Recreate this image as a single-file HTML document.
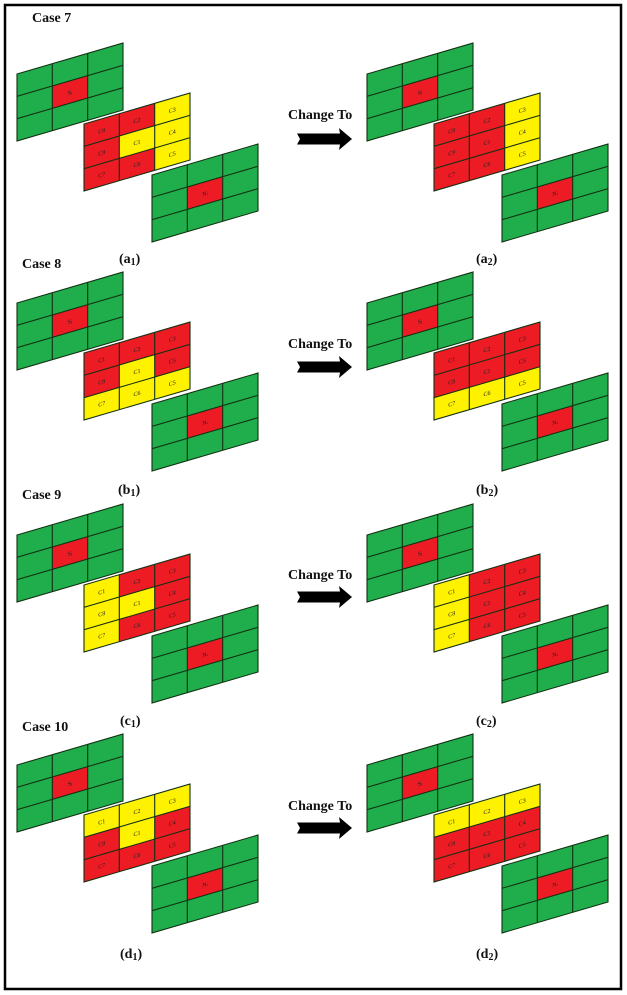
<!DOCTYPE html>
<html><head><meta charset="utf-8"><style>
html,body{margin:0;padding:0;background:#fff;}
svg{display:block;}
.t{font-family:"Liberation Serif",serif;font-weight:bold;font-size:14px;fill:#111;}
.s{font-family:"Liberation Serif",serif;font-size:6px;fill:#222;text-anchor:middle;}
.ln{stroke:#123012;stroke-width:1.1;fill:none;}
</style></head><body>
<svg width="627" height="995" viewBox="0 0 627 995" xmlns="http://www.w3.org/2000/svg">
<rect x="5" y="5" width="616" height="984" fill="#fff" stroke="#000" stroke-width="2.5"/>
<defs>
<g id="lines">
<path class="ln" d="M35.3 0V67M70.7 0V67M0 22.3H106M0 44.7H106"/>
<rect class="ln" x="0" y="0" width="106" height="67"/>
</g>
<g id="gs">
<rect x="0" y="0" width="106" height="67" fill="#1fae4b"/>
<rect x="35.3" y="22.3" width="35.4" height="22.4" fill="#ed1c24"/>
<use href="#lines"/>
<text class="s" x="53" y="36">S<tspan font-size="4">j</tspan></text>
</g>
<g id="gn">
<rect x="0" y="0" width="106" height="67" fill="#1fae4b"/>
<rect x="35.3" y="22.3" width="35.4" height="22.4" fill="#ed1c24"/>
<use href="#lines"/>
<text class="s" x="53" y="36">N<tspan font-size="4">i</tspan></text>
</g>
<g id="arr"><polygon points="297,-5.5 340,-5.5 339,-11 352,0 339,11 340,5.5 297,5.5 300,0" fill="#000"/></g>
</defs>

<text class="t" x="32" y="22">Case 7</text>
<text class="t" x="22" y="268">Case 8</text>
<text class="t" x="22" y="499">Case 9</text>
<text class="t" x="22" y="731">Case 10</text>
<text class="t" x="119" y="263">(a<tspan font-size="10" dy="2">1</tspan><tspan dy="-2">)</tspan></text>
<text class="t" x="476" y="263">(a<tspan font-size="10" dy="2">2</tspan><tspan dy="-2">)</tspan></text>
<text class="t" x="118" y="494">(b<tspan font-size="10" dy="2">1</tspan><tspan dy="-2">)</tspan></text>
<text class="t" x="476" y="494">(b<tspan font-size="10" dy="2">2</tspan><tspan dy="-2">)</tspan></text>
<text class="t" x="120" y="725">(c<tspan font-size="10" dy="2">1</tspan><tspan dy="-2">)</tspan></text>
<text class="t" x="476" y="725">(c<tspan font-size="10" dy="2">2</tspan><tspan dy="-2">)</tspan></text>
<text class="t" x="120" y="958">(d<tspan font-size="10" dy="2">1</tspan><tspan dy="-2">)</tspan></text>
<text class="t" x="476" y="958">(d<tspan font-size="10" dy="2">2</tspan><tspan dy="-2">)</tspan></text>
<text class="t" x="288" y="119">Change To</text>
<text class="t" x="288" y="348">Change To</text>
<text class="t" x="288" y="579">Change To</text>
<text class="t" x="288" y="810">Change To</text>
<use href="#arr" transform="translate(0,139)"/>
<use href="#arr" transform="translate(0,367)"/>
<use href="#arr" transform="translate(0,597)"/>
<use href="#arr" transform="translate(0,828)"/>

<use href="#gs" transform="matrix(1,-0.2925,0,1,17,74)"/>
<use href="#gn" transform="matrix(1,-0.2925,0,1,152,175)"/>
<use href="#gs" transform="matrix(1,-0.2925,0,1,367,74)"/>
<use href="#gn" transform="matrix(1,-0.2925,0,1,502,175)"/>
<g transform="matrix(1,-0.2925,0,1,84,124)">
<rect width="106" height="67" fill="#ed1c24"/>
<rect x="70.7" y="0" width="35.3" height="67" fill="#fff200"/>
<rect x="35.3" y="22.3" width="35.4" height="22.4" fill="#fff200"/>
<use href="#lines"/>
<text class="s" x="17.7" y="14">C8</text><text class="s" x="53" y="14">C2</text><text class="s" x="88.3" y="14">C3</text>
<text class="s" x="17.7" y="36">C9</text><text class="s" x="53" y="36">C1</text><text class="s" x="88.3" y="36">C4</text>
<text class="s" x="17.7" y="58">C7</text><text class="s" x="53" y="58">C6</text><text class="s" x="88.3" y="58">C5</text>
</g>
<g transform="matrix(1,-0.2925,0,1,434,124)">
<rect width="106" height="67" fill="#ed1c24"/>
<rect x="70.7" y="0" width="35.3" height="67" fill="#fff200"/>
<use href="#lines"/>
<text class="s" x="17.7" y="14">C8</text><text class="s" x="53" y="14">C2</text><text class="s" x="88.3" y="14">C3</text>
<text class="s" x="17.7" y="36">C9</text><text class="s" x="53" y="36">C1</text><text class="s" x="88.3" y="36">C4</text>
<text class="s" x="17.7" y="58">C7</text><text class="s" x="53" y="58">C6</text><text class="s" x="88.3" y="58">C5</text>
</g>

<use href="#gs" transform="matrix(1,-0.2925,0,1,17,303)"/>
<use href="#gn" transform="matrix(1,-0.2925,0,1,152,404)"/>
<use href="#gs" transform="matrix(1,-0.2925,0,1,367,303)"/>
<use href="#gn" transform="matrix(1,-0.2925,0,1,502,404)"/>
<g transform="matrix(1,-0.2925,0,1,84,353)">
<rect width="106" height="67" fill="#ed1c24"/>
<rect x="0" y="44.7" width="106" height="22.3" fill="#fff200"/>
<rect x="35.3" y="22.3" width="35.4" height="22.4" fill="#fff200"/>
<use href="#lines"/>
<text class="s" x="17.7" y="14">C1</text><text class="s" x="53" y="14">C2</text><text class="s" x="88.3" y="14">C3</text>
<text class="s" x="17.7" y="36">C8</text><text class="s" x="53" y="36">C1</text><text class="s" x="88.3" y="36">C5</text>
<text class="s" x="17.7" y="58">C7</text><text class="s" x="53" y="58">C6</text><text class="s" x="88.3" y="58">C5</text>
</g>
<g transform="matrix(1,-0.2925,0,1,434,353)">
<rect width="106" height="67" fill="#ed1c24"/>
<rect x="0" y="44.7" width="106" height="22.3" fill="#fff200"/>
<use href="#lines"/>
<text class="s" x="17.7" y="14">C1</text><text class="s" x="53" y="14">C2</text><text class="s" x="88.3" y="14">C3</text>
<text class="s" x="17.7" y="36">C8</text><text class="s" x="53" y="36">C1</text><text class="s" x="88.3" y="36">C5</text>
<text class="s" x="17.7" y="58">C7</text><text class="s" x="53" y="58">C6</text><text class="s" x="88.3" y="58">C5</text>
</g>

<use href="#gs" transform="matrix(1,-0.2925,0,1,17,535)"/>
<use href="#gn" transform="matrix(1,-0.2925,0,1,152,636)"/>
<use href="#gs" transform="matrix(1,-0.2925,0,1,367,535)"/>
<use href="#gn" transform="matrix(1,-0.2925,0,1,502,636)"/>
<g transform="matrix(1,-0.2925,0,1,84,585)">
<rect width="106" height="67" fill="#ed1c24"/>
<rect x="0" y="0" width="35.3" height="67" fill="#fff200"/>
<rect x="35.3" y="22.3" width="35.4" height="22.4" fill="#fff200"/>
<use href="#lines"/>
<text class="s" x="17.7" y="14">C1</text><text class="s" x="53" y="14">C2</text><text class="s" x="88.3" y="14">C3</text>
<text class="s" x="17.7" y="36">C8</text><text class="s" x="53" y="36">C1</text><text class="s" x="88.3" y="36">C4</text>
<text class="s" x="17.7" y="58">C7</text><text class="s" x="53" y="58">C6</text><text class="s" x="88.3" y="58">C5</text>
</g>
<g transform="matrix(1,-0.2925,0,1,434,585)">
<rect width="106" height="67" fill="#ed1c24"/>
<rect x="0" y="0" width="35.3" height="67" fill="#fff200"/>
<use href="#lines"/>
<text class="s" x="17.7" y="14">C1</text><text class="s" x="53" y="14">C2</text><text class="s" x="88.3" y="14">C3</text>
<text class="s" x="17.7" y="36">C8</text><text class="s" x="53" y="36">C1</text><text class="s" x="88.3" y="36">C4</text>
<text class="s" x="17.7" y="58">C7</text><text class="s" x="53" y="58">C6</text><text class="s" x="88.3" y="58">C5</text>
</g>

<use href="#gs" transform="matrix(1,-0.2925,0,1,17,765)"/>
<use href="#gn" transform="matrix(1,-0.2925,0,1,152,866)"/>
<use href="#gs" transform="matrix(1,-0.2925,0,1,367,765)"/>
<use href="#gn" transform="matrix(1,-0.2925,0,1,502,866)"/>
<g transform="matrix(1,-0.2925,0,1,84,815)">
<rect width="106" height="67" fill="#ed1c24"/>
<rect x="0" y="0" width="106" height="22.3" fill="#fff200"/>
<rect x="35.3" y="22.3" width="35.4" height="22.4" fill="#fff200"/>
<use href="#lines"/>
<text class="s" x="17.7" y="14">C1</text><text class="s" x="53" y="14">C2</text><text class="s" x="88.3" y="14">C3</text>
<text class="s" x="17.7" y="36">C8</text><text class="s" x="53" y="36">C1</text><text class="s" x="88.3" y="36">C4</text>
<text class="s" x="17.7" y="58">C7</text><text class="s" x="53" y="58">C6</text><text class="s" x="88.3" y="58">C5</text>
</g>
<g transform="matrix(1,-0.2925,0,1,434,815)">
<rect width="106" height="67" fill="#ed1c24"/>
<rect x="0" y="0" width="106" height="22.3" fill="#fff200"/>
<use href="#lines"/>
<text class="s" x="17.7" y="14">C1</text><text class="s" x="53" y="14">C2</text><text class="s" x="88.3" y="14">C3</text>
<text class="s" x="17.7" y="36">C8</text><text class="s" x="53" y="36">C1</text><text class="s" x="88.3" y="36">C4</text>
<text class="s" x="17.7" y="58">C7</text><text class="s" x="53" y="58">C6</text><text class="s" x="88.3" y="58">C5</text>
</g>
</svg>
</body></html>
